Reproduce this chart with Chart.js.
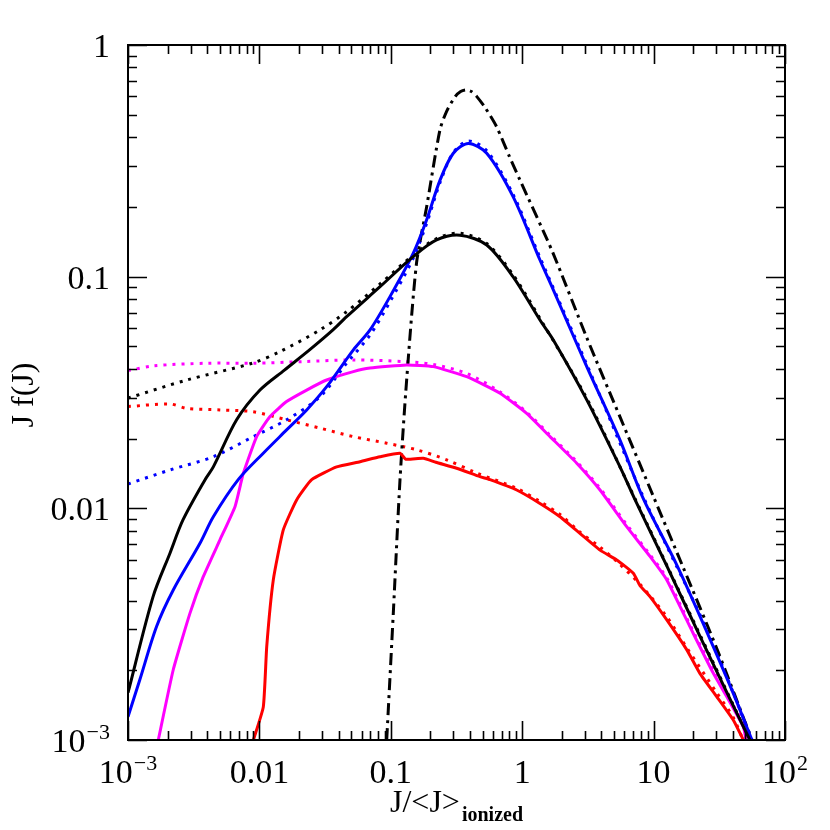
<!DOCTYPE html>
<html>
<head>
<meta charset="utf-8">
<script src="https://cdn.jsdelivr.net/npm/chart.js@4.4.0/dist/chart.umd.min.js"></script>
<style>
  html, body { margin: 0; padding: 0; background: #fff; }
  #c { display: block; }
</style>
</head>
<body>
<canvas id="c" width="830" height="830"></canvas>
<script>
// ---------- tick labels ----------
const xTickValues = [0.001, 0.01, 0.1, 1, 10, 100];
const xTickLabels = ['10^−3', '0.01', '0.1', '1', '10', '10^2'];
const yTickValues = [0.001, 0.01, 0.1, 1];
const yTickLabels = ['10^−3', '0.01', '0.1', '1'];

// ---------- series values ----------
// black solid
const blackSolidX = [0.001, 0.00155, 0.00209, 0.00262, 0.00386, 0.00446, 0.00671, 0.0101, 0.0155, 0.0242, 0.0363, 0.0461, 0.0828, 0.148, 0.223, 0.336, 0.537, 0.851, 1.365, 1.725, 3.10, 5.55, 7.22, 12.6, 22.5, 36.0, 54];
const blackSolidY = [0.0016, 0.00415, 0.00642, 0.00891, 0.0133, 0.0151, 0.0241, 0.0324, 0.0395, 0.0484, 0.0589, 0.0672, 0.0905, 0.122, 0.144, 0.151, 0.137, 0.100, 0.065, 0.0533, 0.0294, 0.0151, 0.0109, 0.00564, 0.00281, 0.00161, 0.001];
// black dotted
const blackDotX = [0.001, 0.0028, 0.00894, 0.01436, 0.0289, 0.0461, 0.0828, 0.148, 0.223, 0.336, 0.537, 0.851, 1.365, 3.10, 7.22, 22.5, 54];
const blackDotY = [0.0299, 0.0358, 0.0424, 0.0475, 0.0589, 0.0706, 0.093, 0.124, 0.146, 0.154, 0.139, 0.102, 0.066, 0.0298, 0.0110, 0.00285, 0.001];
// black dash-dot
const blackDashDotX = [0.0931, 0.1045, 0.1175, 0.132, 0.157, 0.1875, 0.2366, 0.267, 0.31, 0.34, 0.373, 0.41, 0.45, 0.53, 0.638, 0.80, 0.962, 1.7, 3.10, 5.55, 10.0, 16.7, 30.2, 56];
const blackDashDotY = [0.001, 0.00354, 0.0133, 0.0358, 0.1146, 0.2005, 0.43, 0.52, 0.60, 0.63, 0.64, 0.63, 0.60, 0.53, 0.444, 0.33, 0.261, 0.128, 0.0545, 0.0248, 0.0112, 0.0056, 0.00249, 0.001];
// blue solid
const blueSolidX = [0.001, 0.00123, 0.00165, 0.00221, 0.00353, 0.00446, 0.0069, 0.0107, 0.0161, 0.0229, 0.0325, 0.0519, 0.0695, 0.0986, 0.148, 0.1875, 0.237, 0.299, 0.389, 0.537, 0.854, 1.365, 1.725, 3.10, 5.55, 8.35, 15.0, 25.4, 40.4, 56];
const blueSolidY = [0.00126, 0.00182, 0.00309, 0.00444, 0.00707, 0.0092, 0.0133, 0.0173, 0.0218, 0.0266, 0.0335, 0.0483, 0.0589, 0.082, 0.126, 0.176, 0.261, 0.341, 0.376, 0.341, 0.221, 0.118, 0.0877, 0.0409, 0.0197, 0.011, 0.0057, 0.00293, 0.00159, 0.001];
// blue dotted
const blueDotX = [0.001, 0.00209, 0.00446, 0.009, 0.0161, 0.0289, 0.0461, 0.0695, 0.0986, 0.148, 0.1875, 0.237, 0.299, 0.389, 0.537, 0.854, 1.365, 3.10, 8.35, 25.4, 56];
const blueDotY = [0.01274, 0.01465, 0.0167, 0.0204, 0.0241, 0.0303, 0.0423, 0.056, 0.078, 0.120, 0.170, 0.255, 0.343, 0.385, 0.350, 0.226, 0.121, 0.0418, 0.0112, 0.003, 0.00101];
// magenta solid
const magentaSolidX = [0.0017, 0.00221, 0.00296, 0.00374, 0.00501, 0.00652, 0.00733, 0.00754, 0.00953, 0.01205, 0.0161, 0.0229, 0.0325, 0.0519, 0.0695, 0.132, 0.2106, 0.378, 0.678, 1.081, 1.628, 2.60, 3.91, 6.24, 9.39, 12.6, 20.0, 28.5, 36.0, 48.2, 50.5];
const magentaSolidY = [0.001, 0.00201, 0.00352, 0.00507, 0.00731, 0.01017, 0.0133, 0.01417, 0.0204, 0.0249, 0.0289, 0.0324, 0.0358, 0.0389, 0.0403, 0.0416, 0.0409, 0.037, 0.0314, 0.0257, 0.0204, 0.01566, 0.012, 0.00834, 0.0062, 0.00491, 0.00289, 0.00194, 0.00154, 0.00114, 0.001];
// magenta dotted
const magentaDotX = [0.001, 0.00156, 0.00397, 0.009, 0.0216, 0.0519, 0.1245, 0.2106, 0.378, 0.678, 1.081, 1.628, 2.60, 3.91, 6.24, 9.39, 12.6, 20.0, 28.5, 36.0, 48.2, 51];
const magentaDotY = [0.0393, 0.0412, 0.0423, 0.0423, 0.043, 0.0437, 0.043, 0.0418, 0.0382, 0.0318, 0.026, 0.0207, 0.0159, 0.0122, 0.0085, 0.0063, 0.005, 0.00295, 0.002, 0.00158, 0.00117, 0.001];
// red solid
const redSolidX = [0.009, 0.01071, 0.01137, 0.01276, 0.0152, 0.0192, 0.025, 0.0387, 0.0583, 0.0828, 0.1175, 0.13, 0.1767, 0.22, 0.317, 0.477, 0.569, 0.908, 1.365, 1.94, 2.75, 3.91, 5.24, 7.01, 7.88, 9.39, 12.6, 17.9, 22.5, 30.2, 40.4, 48.2];
const redSolidY = [0.001, 0.00139, 0.00253, 0.00491, 0.00807, 0.01087, 0.0133, 0.0151, 0.0159, 0.0167, 0.0173, 0.0163, 0.01645, 0.0158, 0.0149, 0.0137, 0.0133, 0.012, 0.0105, 0.0092, 0.0078, 0.0066, 0.00599, 0.00525, 0.00464, 0.00416, 0.0033, 0.00245, 0.00194, 0.00154, 0.00122, 0.001];
// red dotted
const redDotX = [0.001, 0.00209, 0.0028, 0.00501, 0.009, 0.0161, 0.0289, 0.0519, 0.0931, 0.157, 0.266, 0.451, 0.908, 1.365, 1.94, 2.75, 3.91, 5.24, 7.88, 12.6, 17.9, 30.2, 40.4, 48];
const redDotY = [0.0275, 0.0282, 0.027, 0.0266, 0.0261, 0.0241, 0.0222, 0.0204, 0.0191, 0.0179, 0.0162, 0.0142, 0.0122, 0.0107, 0.0094, 0.0079, 0.0068, 0.0059, 0.0047, 0.0034, 0.0025, 0.0016, 0.00125, 0.001];

// ---------- build datasets ----------
const pts = (xs, ys) => xs.map((v, i) => ({ x: v, y: ys[i] }));
const DOT = [3, 6];
const DASHDOT = [12, 5, 3, 5];
function ds(xs, ys, color, dash, tension) {
  return {
    data: pts(xs, ys),
    borderColor: color,
    borderWidth: 3,
    borderDash: dash || [],
    tension: tension === undefined ? 0.3 : tension,
    pointRadius: 0,
    fill: false
  };
}
const datasets = [
  ds(blackSolidX, blackSolidY, '#000000'),
  ds(blueSolidX, blueSolidY, '#0000ff'),
  ds(magentaSolidX, magentaSolidY, '#ff00ff', null, 0.15),
  ds(redSolidX, redSolidY, '#ff0000', null, 0.15),
  ds(blackDashDotX, blackDashDotY, '#000000', DASHDOT, 0.25),
  ds(blackDotX, blackDotY, '#000000', DOT),
  ds(blueDotX, blueDotY, '#0000ff', DOT),
  ds(magentaDotX, magentaDotY, '#ff00ff', DOT),
  ds(redDotX, redDotY, '#ff0000', DOT)
];

// ---------- axes / frame plugin ----------
const FONT = '"Liberation Serif", "DejaVu Serif", serif';
function drawPowLabel(ctx, text, px, baseline, align) {
  const parts = text.split('^');
  ctx.font = '34px ' + FONT;
  const wBase = ctx.measureText(parts[0]).width;
  let wExp = 0;
  if (parts.length > 1) {
    ctx.font = '22px ' + FONT;
    wExp = ctx.measureText(parts[1]).width + 1;
  }
  const total = wBase + wExp;
  let x0 = align === 'center' ? px - total / 2 : px - total;
  ctx.textAlign = 'left';
  ctx.textBaseline = 'alphabetic';
  ctx.font = '34px ' + FONT;
  ctx.fillText(parts[0], x0, baseline);
  if (parts.length > 1) {
    ctx.font = '22px ' + FONT;
    ctx.fillText(parts[1], x0 + wBase + 1, baseline - 13);
  }
}
const axesPlugin = {
  id: 'axesPlugin',
  afterDatasetsDraw(chart) {
    const { ctx, chartArea: a, scales } = chart;
    const xs = scales.x, ys = scales.y;
    ctx.save();
    ctx.strokeStyle = '#000';
    ctx.fillStyle = '#000';
    // frame
    ctx.lineWidth = 2;
    ctx.strokeRect(a.left, a.top, a.right - a.left, a.bottom - a.top);
    // ticks
    ctx.lineWidth = 1.6;
    ctx.beginPath();
    for (let d = -3; d <= 2; d++) {
      for (let m = 1; m <= 9; m++) {
        const v = m * Math.pow(10, d);
        if (v > 100.0001) break;
        const px = Math.round(xs.getPixelForValue(v)) + 0.5;
        const len = m === 1 ? 19 : 9;
        ctx.moveTo(px, a.bottom); ctx.lineTo(px, a.bottom - len);
        ctx.moveTo(px, a.top); ctx.lineTo(px, a.top + len);
      }
    }
    for (let d = -3; d <= 0; d++) {
      for (let m = 1; m <= 9; m++) {
        const v = m * Math.pow(10, d);
        if (v > 1.0001) break;
        const py = Math.round(ys.getPixelForValue(v)) + 0.5;
        const len = m === 1 ? 19 : 9;
        ctx.moveTo(a.left, py); ctx.lineTo(a.left + len, py);
        ctx.moveTo(a.right, py); ctx.lineTo(a.right - len, py);
      }
    }
    ctx.stroke();
    // tick labels
    xTickValues.forEach((v, i) => {
      drawPowLabel(ctx, xTickLabels[i], xs.getPixelForValue(v), a.bottom + 43, 'center');
    });
    yTickValues.forEach((v, i) => {
      drawPowLabel(ctx, yTickLabels[i], a.left - 18, ys.getPixelForValue(v) + 12, 'right');
    });
    // x-axis title
    ctx.font = '32px ' + FONT;
    const t1 = 'J/<J>';
    const w1 = ctx.measureText(t1).width;
    ctx.font = 'bold 20px ' + FONT;
    const t2 = 'ionized';
    const w2 = ctx.measureText(t2).width;
    const cx = (a.left + a.right) / 2;
    const x0 = cx - (w1 + w2 + 2) / 2;
    ctx.textAlign = 'left';
    ctx.font = '32px ' + FONT;
    ctx.fillText(t1, x0, 812);
    ctx.font = 'bold 20px ' + FONT;
    ctx.fillText(t2, x0 + w1 + 2, 821);
    // y-axis title
    ctx.save();
    ctx.translate(33, 395);
    ctx.rotate(-Math.PI / 2);
    ctx.textAlign = 'center';
    ctx.font = '32px ' + FONT;
    ctx.fillText('J f(J)', 0, 0);
    ctx.restore();
    ctx.restore();
  }
};

new Chart(document.getElementById('c'), {
  type: 'line',
  data: { datasets },
  options: {
    responsive: false,
    animation: false,
    devicePixelRatio: 1,
    layout: { padding: { left: 128, top: 45, right: 45, bottom: 90 } },
    scales: {
      x: { type: 'logarithmic', min: 0.001, max: 100, display: false },
      y: { type: 'logarithmic', min: 0.001, max: 1, display: false }
    },
    plugins: { legend: { display: false }, tooltip: { enabled: false }, title: { display: false } },
    elements: { line: { borderCapStyle: 'butt', borderJoinStyle: 'round' } }
  },
  plugins: [axesPlugin]
});
</script>
</body>
</html>
